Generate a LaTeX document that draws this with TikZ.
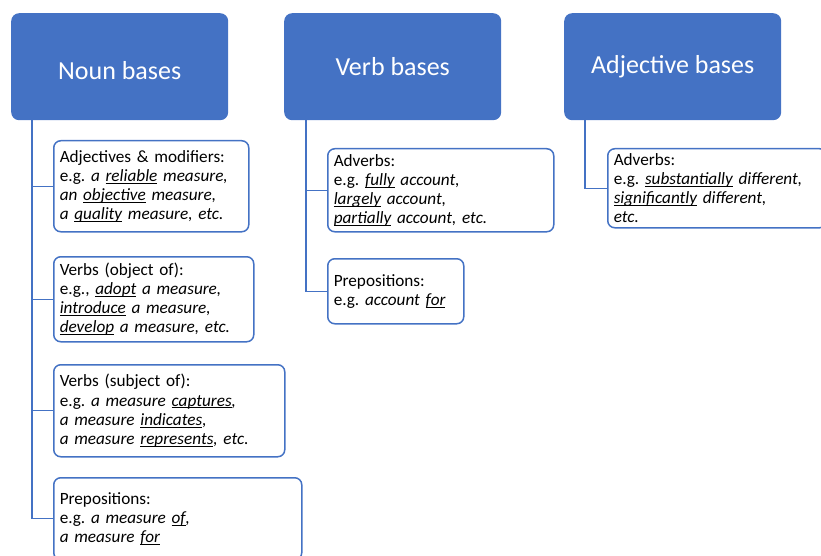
\documentclass[tikz,border=0pt]{standalone}
\usepackage{fontspec}
\setmainfont{Carlito}
\usetikzlibrary{calc}
\definecolor{hblue}{HTML}{4472C4}
\newsavebox\ulbox
\newcommand\uln[1]{\sbox\ulbox{#1}\rlap{\rule[-2.4pt]{\wd\ulbox}{1pt}}\usebox\ulbox}
\tikzset{
  header/.style={fill=hblue, draw=none, rounded corners=8pt, text=white,
    font=\fontsize{26}{30}\selectfont, anchor=north west, inner sep=0pt},
  htext/.style={text=white, font=\fontsize{26}{30}\selectfont, inner sep=0pt},
  leaf/.style={draw=hblue, line width=1.5pt, rounded corners=7pt, fill=white,
    anchor=north west, inner xsep=6pt, inner ysep=0pt, align=left,
    font=\fontsize{17.2}{19.2}\selectfont},
  conn/.style={draw=hblue, line width=1.4pt},
}
\begin{document}
\begin{tikzpicture}[x=1pt,y=-1pt]
\useasboundingbox (0,0) rectangle (821,556);
\clip (0,0) rectangle (821,556);
% headers
\node[header, minimum width=217pt, minimum height=107pt] (noun) at (11,13) {};
\node[htext] (nountext) at ($(noun.center)+(0,4)$) {Noun bases};
\node[header, minimum width=217pt, minimum height=107pt] (verb) at (284,13) {Verb bases};
\node[header, minimum width=217pt, minimum height=107pt] (adj) at (564,13) {Adjective bases};
% noun children
\node[leaf, text width=183pt, minimum height=91pt] (n1) at (53,140) {Adjectives \& modifiers:\\
e.g.\ \textit{a \uln{reliable} measure,}\\
\textit{an \uln{objective} measure,}\\
\textit{a \uln{quality} measure, etc.}};
\node[leaf, text width=188pt, minimum height=85pt] (n2) at (53,256) {Verbs (object of):\\
e.g., \textit{\uln{adopt} a measure,}\\
\textit{\uln{introduce} a measure,}\\
\textit{\uln{develop} a measure, etc.}};
\node[leaf, text width=219pt, minimum height=92pt] (n3) at (53,364) {Verbs (subject of):\\
e.g.\ \textit{a measure \uln{captures},}\\
\textit{a measure \uln{indicates},}\\
\textit{a measure \uln{represents}, etc.}};
\node[leaf, text width=236pt, minimum height=82pt] (n4) at (53,477) {Prepositions:\\
e.g.\ \textit{a measure \uln{of},}\\
\textit{a measure \uln{for}}};
% verb children
\node[leaf, text width=214pt, minimum height=83pt] (v1) at (327,148) {Adverbs:\\
e.g.\ \textit{\uln{fully} account,}\\
\textit{\uln{largely} account,}\\
\textit{\uln{partially} account, etc.}};
\node[leaf, text width=124pt, minimum height=65pt] (v2) at (327,258) {Prepositions:\\
e.g.\ \textit{account \uln{for}}};
% adjective child
\node[leaf, text width=207pt, minimum height=79pt] (a1) at (607,148) {Adverbs:\\
e.g.\ \textit{\uln{substantially} different,}\\
\textit{\uln{significantly} different,}\\
\textit{etc.}};
% connectors
\coordinate (nt) at ($(noun.south west)+(21,0)$);
\coordinate (vt) at ($(verb.south west)+(22,0)$);
\coordinate (at) at ($(adj.south west)+(21,0)$);
\draw[conn] (nt) |- (n4.west);
\draw[conn] (nt |- n1.west) -- (n1.west);
\draw[conn] (nt |- n2.west) -- (n2.west);
\draw[conn] (nt |- n3.west) -- (n3.west);
\draw[conn] (vt) |- (v2.west);
\draw[conn] (vt |- v1.west) -- (v1.west);
\draw[conn] (at) |- (a1.west);
\end{tikzpicture}
\end{document}
